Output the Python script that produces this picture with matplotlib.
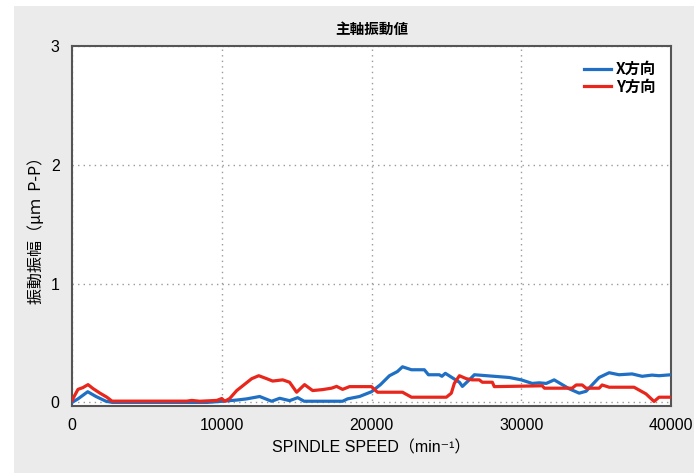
import matplotlib.pyplot as plt
from matplotlib.patches import Rectangle

plt.rcParams['font.family'] = ['Liberation Sans', 'Noto Sans CJK JP', 'DejaVu Sans']

# spindle speed (min^-1) and vibration amplitude (um P-P)
x_speed = [0, 400, 1050, 1600, 2270, 2700, 9000, 10070, 11000, 11670, 12530,
           13330, 13870, 14530, 15070, 15500, 18070, 18400, 19200, 20000,
           20600, 21200, 21730, 22070, 22670, 23530, 23800, 24530, 24700,
           24930, 25870, 26070, 26530, 26870, 29200, 30000, 30730, 31200,
           31670, 32200, 33200, 33870, 34330, 35200, 35870, 36530, 37400,
           38070, 38730, 39200, 40000]
x_amp = [0.0, 0.03, 0.09, 0.05, 0.01, 0.0, 0.0, 0.01, 0.02, 0.03, 0.05,
         0.01, 0.035, 0.015, 0.04, 0.01, 0.01, 0.03, 0.05, 0.09,
         0.15, 0.225, 0.26, 0.30, 0.275, 0.275, 0.233, 0.233, 0.22,
         0.245, 0.17, 0.135, 0.19, 0.233, 0.21, 0.19, 0.16, 0.165,
         0.16, 0.19, 0.115, 0.078, 0.094, 0.21, 0.25, 0.233, 0.24,
         0.22, 0.23, 0.225, 0.233]

y_speed = [0, 400, 730, 1070, 1400, 1870, 2330, 2670, 7670, 8000, 8530,
           9670, 10000, 10200, 10530, 11000, 11400, 12000, 12470, 13000,
           13400, 14070, 14530, 15000, 15530, 16070, 16730, 17330, 17670,
           18070, 18530, 20000, 20400, 22070, 22670, 25000, 25330, 25530,
           25870, 26330, 26730, 27200, 27400, 28070, 28200, 31400, 31550,
           33400, 33670, 34070, 34330, 35200, 35400, 35870, 37530, 38330,
           38870, 39200, 40000]
y_amp = [0.017, 0.11, 0.125, 0.15, 0.117, 0.078, 0.044, 0.011, 0.011, 0.017, 0.01,
         0.017, 0.033, 0.01, 0.033, 0.1, 0.14, 0.2, 0.225, 0.2,
         0.18, 0.19, 0.17, 0.086, 0.15, 0.1, 0.108, 0.12, 0.135,
         0.11, 0.133, 0.133, 0.086, 0.086, 0.044, 0.044, 0.078, 0.16,
         0.225, 0.2, 0.19, 0.19, 0.17, 0.17, 0.133, 0.14, 0.12,
         0.12, 0.147, 0.147, 0.12, 0.12, 0.147, 0.128, 0.128, 0.072,
         0.008, 0.044, 0.044]

x_ticks = [0, 10000, 20000, 30000, 40000]
y_ticks = [0, 1, 2, 3]

fig = plt.figure(figsize=(6.94, 4.73), dpi=100, facecolor='white')
# grey panel behind the plot, leaving a thin white margin top and left
fig.patches.append(Rectangle((14 / 694, 0), 1, 1 - 6 / 473,
                             transform=fig.transFigure, facecolor='#ebebeb',
                             edgecolor='none', zorder=-10))
ax = fig.add_axes([72 / 694, 1 - 406 / 473, 599 / 694, 360 / 473])
ax.set_zorder(1)

ax.plot(x_speed, x_amp, color='#1f6fc4', lw=2.3, label='X方向', zorder=3)
ax.plot(y_speed, y_amp, color='#e8261c', lw=2.3, label='Y方向', zorder=3)

ax.set_xlim(0, 40000)
ax.set_ylim(-0.03, 3.0)
ax.set_xticks(x_ticks)
ax.set_yticks(y_ticks)
ax.tick_params(length=0, labelsize=11.5, pad=9)
ax.grid(True, color='#9a9a9a', linestyle=(0, (1, 3)), linewidth=1)
for s in ax.spines.values():
    s.set_color('#555555')
    s.set_linewidth(1.5)

ax.set_title('主軸振動値', fontsize=10.5, fontweight='bold', pad=9,
             family=['Noto Sans CJK JP'])
ax.set_xlabel('SPINDLE SPEED（min⁻¹）', fontsize=11.5, labelpad=5)
ax.set_ylabel('振動振幅（μｍ  P-P）', fontsize=11.5, labelpad=4,
              family=['Noto Sans CJK JP', 'DejaVu Sans'])

ax.legend(loc='upper right', frameon=False, handlelength=1.8,
          handletextpad=0.3, labelspacing=0.1, borderaxespad=0.6,
          prop={'family': ['Noto Sans CJK JP'], 'weight': 'bold', 'size': 11})

fig.savefig('out.png', dpi=100, facecolor=fig.get_facecolor())
